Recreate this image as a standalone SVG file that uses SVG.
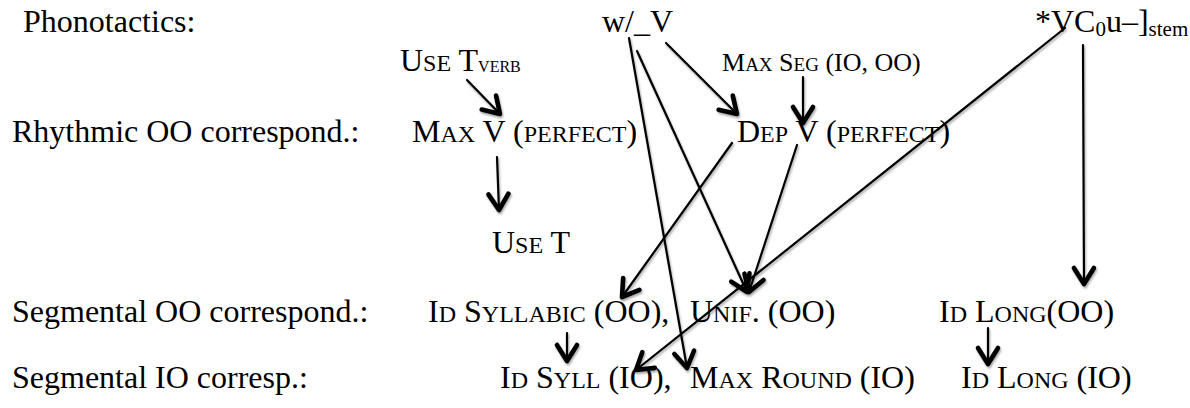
<svg xmlns="http://www.w3.org/2000/svg" width="1190" height="408" viewBox="0 0 1190 408">
<style>
text{font-family:"Liberation Serif","Times New Roman",serif;font-size:32px;fill:#000}
.sc{font-size:24px}
.small{font-size:26px}
.small .sc{font-size:19px}
.sub{font-size:21px}
.verb{font-size:16px}
.conn line{stroke:#000;stroke-width:2.2;stroke-linecap:round;marker-end:url(#ah)}
</style>
<defs>
<filter id="sh" x="-20%" y="-20%" width="140%" height="140%">
<feDropShadow dx="1" dy="2" stdDeviation="1.3" flood-color="#000" flood-opacity="0.35"/>
</filter>
<marker id="ah" markerUnits="userSpaceOnUse" markerWidth="30" markerHeight="30" viewBox="-24 -15 30 30" refX="0" refY="0" orient="auto">
<path d="M-16,-10 L0,0 L-16,10" fill="none" stroke="#000" stroke-width="4.6" stroke-linecap="round" stroke-linejoin="round"/>
</marker>
</defs>
<g id="row-labels">
<text x="23" y="32">Phonotactics:</text>
<text x="12" y="142">Rhythmic OO correspond.:</text>
<text x="12" y="322">Segmental OO correspond.:</text>
<text x="12" y="388">Segmental IO corresp.:</text>
</g>
<g id="n-wv"><text x="602" y="32">w/_V</text></g>
<g id="n-vc0u"><text x="1035" y="32">*VC<tspan class="sub" dy="4">0</tspan><tspan dy="-4">u–]</tspan><tspan class="sub" dy="4">stem</tspan></text></g>
<g id="n-use-tverb"><text x="400" y="71">U<tspan class="sc">SE</tspan> T<tspan class="verb" dy="1">VERB</tspan></text></g>
<g id="n-max-seg"><text class="small" x="722" y="71">M<tspan class="sc">AX</tspan> S<tspan class="sc">EG</tspan> (IO, OO)</text></g>
<g id="n-max-v"><text x="412" y="142">M<tspan class="sc">AX</tspan> V (<tspan class="sc">PERFECT</tspan>)</text></g>
<g id="n-dep-v"><text x="737" y="142">D<tspan class="sc">EP</tspan> V (<tspan class="sc">PERFECT</tspan>)</text></g>
<g id="n-use-t"><text x="492" y="253">U<tspan class="sc">SE</tspan> T</text></g>
<g id="n-id-syllabic"><text x="428" y="322">I<tspan class="sc">D</tspan> S<tspan class="sc">YLLABIC</tspan> (OO),</text></g>
<g id="n-unif"><text x="690" y="322">U<tspan class="sc">NIF</tspan>. (OO)</text></g>
<g id="n-id-long-oo"><text x="939" y="322">I<tspan class="sc">D</tspan> L<tspan class="sc">ONG</tspan>(OO)</text></g>
<g id="n-id-syll-io"><text x="500" y="388">I<tspan class="sc">D</tspan> S<tspan class="sc">YLL</tspan> (IO),</text></g>
<g id="n-max-round"><text x="690" y="388">M<tspan class="sc">AX</tspan> R<tspan class="sc">OUND</tspan> (IO)</text></g>
<g id="n-id-long-io"><text x="961" y="388">I<tspan class="sc">D</tspan> L<tspan class="sc">ONG</tspan> (IO)</text></g>
<g id="connectors" class="conn" filter="url(#sh)">
<line x1="467" y1="80" x2="500" y2="114"/>
<line x1="497" y1="157" x2="499" y2="210"/>
<line x1="666" y1="43" x2="737" y2="114"/>
<line x1="803" y1="77" x2="803" y2="123"/>
<line x1="629" y1="38" x2="687" y2="368"/>
<line x1="637" y1="51" x2="747" y2="292"/>
<line x1="797" y1="145" x2="749" y2="292"/>
<line x1="732" y1="143" x2="622" y2="297"/>
<line x1="1065" y1="28" x2="636" y2="370"/>
<line x1="1083" y1="45" x2="1084" y2="284"/>
<line x1="567" y1="333" x2="567" y2="361"/>
<line x1="988" y1="328" x2="988" y2="364"/>
</g>
</svg>
